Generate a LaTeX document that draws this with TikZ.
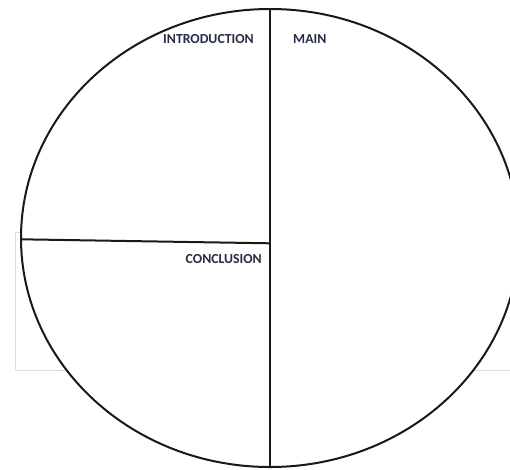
\documentclass[tikz,border=0pt]{standalone}
\usepackage{fontspec}
\setmainfont{Carlito}
\definecolor{labelink}{RGB}{38,44,72}
\definecolor{framegray}{RGB}{220,220,220}
\tikzset{
  outline/.style={line width=2pt, black!90},
  lbl/.style={font=\bfseries\fontsize{13.8}{16}\selectfont, text=labelink, inner sep=0pt}
}
\begin{document}
\begin{tikzpicture}[x=1pt,y=-1pt]
\useasboundingbox (0,0) rectangle (510,469);
\fill[white] (0,0) rectangle (510,469);
% faint frame behind
\draw[framegray, line width=0.8pt] (15.5,232) -- (15.5,370) -- (515,370);
\draw[framegray, line width=0.8pt] (15.5,232) -- (22,232);
% ellipse
\filldraw[outline, fill=white] (270,238) ellipse [x radius=249, y radius=229];
\coordinate (top) at (270,9);
\coordinate (bot) at (270,467);
\coordinate (left) at (21,239.3);
\coordinate (mid) at (270,243.3);
\draw[outline] (top) -- (bot);
\draw[outline] (left) -- (mid);
\node[lbl, anchor=east] (intro) at (254,39) {INTRODUCTION};
\node[lbl, anchor=west] (main) at (293,39) {MAIN};
\node[lbl, anchor=east] (concl) at (262,259) {CONCLUSION};
\end{tikzpicture}
\end{document}
